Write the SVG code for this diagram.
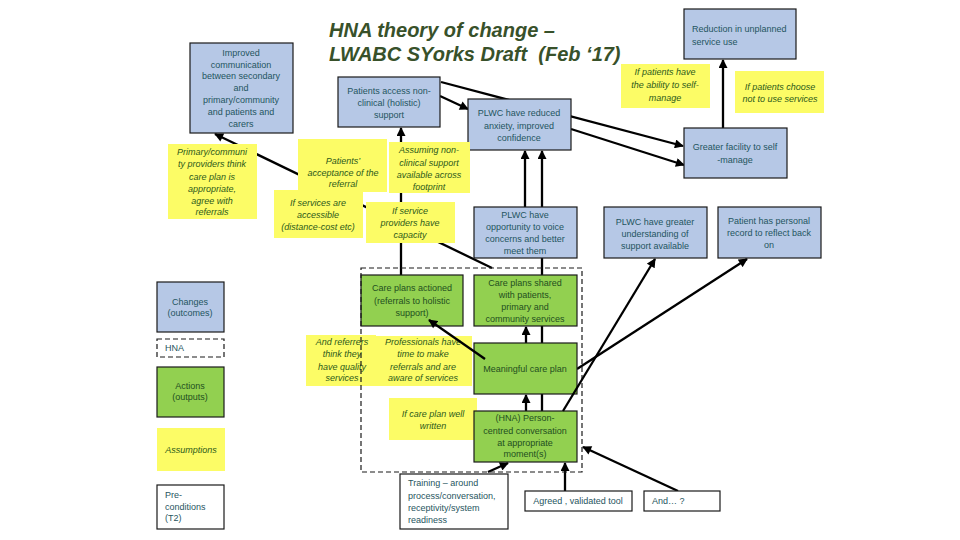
<svg xmlns="http://www.w3.org/2000/svg" width="960" height="540" viewBox="0 0 960 540">
<style>
.b{fill:#b6c8e6;stroke:#1a1a1a;stroke-width:1.2}
.g{fill:#92d050;stroke:#1a1a1a;stroke-width:1.2}
.y{fill:#fcfc66;stroke:none}
.w{fill:#ffffff;stroke:#1a1a1a;stroke-width:1.2}
.d{fill:none;stroke:#1a1a1a;stroke-width:1.2;stroke-dasharray:5 3}
text{font-family:"Liberation Sans",Arial,sans-serif;font-size:9px}
.tb{fill:#1f5560;text-anchor:middle}
.tg{fill:#1f4f1f;text-anchor:middle}
.tw{fill:#1f5560}
.ty{fill:#2c5a1a;font-style:italic;text-anchor:middle}
.title{font-size:20px;font-weight:bold;font-style:italic;fill:#38512a}
.c{stroke:#000;stroke-width:2.3;fill:none;marker-end:url(#ah)}
</style>
<defs>
<marker id="ah" viewBox="0 0 10 10" refX="9" refY="5" markerWidth="10" markerHeight="9" markerUnits="userSpaceOnUse" orient="auto">
<path d="M0,0 L10,5 L0,10 z" fill="#000"/>
</marker>
</defs>
<rect width="960" height="540" fill="#fff"/>

<g id="title">
<text class="title" x="329" y="37">HNA theory of change –</text>
<text class="title" x="329" y="61">LWABC SYorks Draft &#160;(Feb ‘17)</text>
</g>

<g id="n-referrers">
<rect class="y" x="306" y="335" width="70" height="51"/>
<text class="ty" x="342" y="345">And referrers</text>
<text class="ty" x="342" y="357">think they</text>
<text class="ty" x="342" y="370">have quality</text>
<text class="ty" x="342" y="381">services</text>
</g>
<g id="n-professionals">
<rect class="y" x="376" y="336" width="96" height="50"/>
<text class="ty" x="423" y="345">Professionals have</text>
<text class="ty" x="423" y="357">time to make</text>
<text class="ty" x="423" y="370">referrals and are</text>
<text class="ty" x="423" y="381">aware of services</text>
</g>

<g id="connectors">
<line class="c" x1="492" y1="268" x2="215" y2="134"/>
<line class="c" x1="401" y1="275" x2="401" y2="128"/>
<line class="c" x1="441" y1="82" x2="683" y2="146"/>
<line class="c" x1="440" y1="96" x2="468" y2="109"/>
<line class="c" x1="571" y1="129" x2="684" y2="165"/>
<line class="c" x1="525" y1="207" x2="525" y2="151"/>
<line class="c" x1="542" y1="436" x2="542" y2="151"/>
<line class="c" x1="723" y1="128" x2="723" y2="60"/>
<line class="c" x1="526" y1="343" x2="526" y2="327"/>
<line class="c" x1="526" y1="411" x2="526" y2="395"/>
<line class="c" x1="565" y1="491" x2="565" y2="463"/>
<line class="c" x1="488" y1="472" x2="508" y2="463"/>
<line class="c" x1="678" y1="491" x2="583" y2="447"/>
<line class="c" x1="577" y1="369" x2="747" y2="259"/>
</g>

<g id="n-improved">
<rect class="b" x="190" y="43" width="103" height="90"/>
<text class="tb" x="241" y="56">Improved</text>
<text class="tb" x="241" y="67.5">communication</text>
<text class="tb" x="241" y="79">between secondary</text>
<text class="tb" x="241" y="91">and</text>
<text class="tb" x="241" y="103">primary/community</text>
<text class="tb" x="241" y="115">and  patients and</text>
<text class="tb" x="241" y="127">carers</text>
</g>
<g id="n-access">
<rect class="b" x="338" y="77" width="102" height="50"/>
<text class="tb" x="389" y="94">Patients access non-</text>
<text class="tb" x="389" y="106">clinical (holistic)</text>
<text class="tb" x="389" y="118">support</text>
</g>
<g id="n-anxiety">
<rect class="b" x="468" y="99" width="103" height="51"/>
<text class="tb" x="519" y="116">PLWC have reduced</text>
<text class="tb" x="519" y="129">anxiety, improved</text>
<text class="tb" x="519" y="141">confidence</text>
</g>
<g id="n-reduction">
<rect class="b" x="684" y="9" width="112" height="50"/>
<text class="tw" x="692" y="32">Reduction in unplanned</text>
<text class="tw" x="692" y="45">service use</text>
</g>
<g id="n-greater">
<rect class="b" x="684" y="128" width="103" height="50"/>
<text class="tb" x="735" y="150">Greater facility to self</text>
<text class="tb" x="735" y="163">-manage</text>
</g>
<g id="n-voice">
<rect class="b" x="474" y="207" width="103" height="51"/>
<text class="tb" x="525" y="218">PLWC have</text>
<text class="tb" x="525" y="230">opportunity to voice</text>
<text class="tb" x="525" y="242">concerns and better</text>
<text class="tb" x="525" y="254">meet them</text>
</g>
<g id="n-understanding">
<rect class="b" x="604" y="207" width="103" height="51"/>
<text class="tb" x="655" y="225">PLWC have greater</text>
<text class="tb" x="655" y="237">understanding of</text>
<text class="tb" x="655" y="249">support available</text>
</g>
<g id="n-record">
<rect class="b" x="718" y="207" width="103" height="51"/>
<text class="tb" x="769" y="224">Patient has personal</text>
<text class="tb" x="769" y="236">record to reflect back</text>
<text class="tb" x="769" y="248">on</text>
</g>

<g id="n-actioned">
<rect class="g" x="361" y="275" width="102" height="51"/>
<text class="tg" x="412" y="291">Care plans actioned</text>
<text class="tg" x="412" y="304">(referrals to holistic</text>
<text class="tg" x="412" y="316">support)</text>
</g>
<g id="n-shared">
<rect class="g" x="474" y="275" width="103" height="51"/>
<text class="tg" x="525" y="286">Care plans shared</text>
<text class="tg" x="525" y="298">with patients,</text>
<text class="tg" x="525" y="310">primary and</text>
<text class="tg" x="525" y="322">community services</text>
</g>
<g id="n-wellwritten">
<rect class="y" x="389" y="398" width="88" height="42"/>
<text class="ty" x="433" y="417">If care plan well</text>
<text class="ty" x="433" y="429">written</text>
</g>
<g id="n-meaningful">
<rect class="g" x="474" y="343" width="103" height="51"/>
<text class="tg" x="525" y="372">Meaningful care plan</text>
</g>
<g id="n-conversation">
<rect class="g" x="474" y="411" width="103" height="51"/>
<text class="tg" x="525" y="421">(HNA) Person-</text>
<text class="tg" x="525" y="434">centred conversation</text>
<text class="tg" x="525" y="446">at appropriate</text>
<text class="tg" x="525" y="457">moment(s)</text>
</g>

<g id="n-primary">
<rect class="y" x="168" y="144" width="89" height="75"/>
<text class="ty" x="212" y="155">Primary/communi</text>
<text class="ty" x="212" y="167">ty providers think</text>
<text class="ty" x="212" y="180">care plan is</text>
<text class="ty" x="212" y="192">appropriate,</text>
<text class="ty" x="212" y="204">agree with</text>
<text class="ty" x="212" y="215">referrals</text>
</g>
<g id="n-acceptance">
<rect class="y" x="298" y="139" width="89" height="53"/>
<text class="ty" x="343" y="164">Patients’</text>
<text class="ty" x="343" y="176">acceptance of the</text>
<text class="ty" x="343" y="187">referral</text>
</g>
<g id="n-assuming">
<rect class="y" x="389" y="142" width="81" height="51"/>
<text class="ty" x="429" y="153">Assuming non-</text>
<text class="ty" x="429" y="166">clinical support</text>
<text class="ty" x="429" y="178">available across</text>
<text class="ty" x="429" y="190">footprint</text>
</g>
<g id="n-accessible">
<rect class="y" x="274" y="190" width="89" height="48"/>
<text class="ty" x="318" y="206">If services are</text>
<text class="ty" x="318" y="218">accessible</text>
<text class="ty" x="318" y="230">(distance-cost etc)</text>
</g>
<g id="n-capacity">
<rect class="y" x="366" y="202" width="89" height="41"/>
<text class="ty" x="410" y="214">If service</text>
<text class="ty" x="410" y="226">providers have</text>
<text class="ty" x="410" y="238">capacity</text>
</g>
<g id="n-ability">
<rect class="y" x="621" y="64" width="89" height="44"/>
<text class="ty" x="665" y="75">If patients have</text>
<text class="ty" x="665" y="88">the ability to self-</text>
<text class="ty" x="665" y="101">manage</text>
</g>
<g id="n-choose">
<rect class="y" x="735" y="71" width="89" height="42"/>
<text class="ty" x="780" y="90">If patients choose</text>
<text class="ty" x="780" y="102">not to use services</text>
</g>

<g id="n-training">
<rect class="w" x="400" y="474" width="108" height="55"/>
<text class="tw" x="408" y="486">Training – around</text>
<text class="tw" x="408" y="499">process/conversation,</text>
<text class="tw" x="408" y="511">receptivity/system</text>
<text class="tw" x="408" y="523">readiness</text>
</g>
<g id="n-tool">
<rect class="w" x="525" y="491" width="107" height="20"/>
<text class="tb" x="578" y="504">Agreed , validated tool</text>
</g>
<g id="n-and">
<rect class="w" x="644" y="491" width="76" height="20"/>
<text class="tw" x="652" y="504">And… ?</text>
</g>

<g id="hna-boundary">
<rect class="d" x="361" y="268" width="221" height="204"/>
</g>

<g id="connectors-front">
<line class="c" x1="485" y1="359" x2="429" y2="320"/>
<line class="c" x1="563" y1="411" x2="655" y2="259"/>
</g>

<g id="legend">
<g id="l-changes">
<rect class="b" x="157" y="282" width="67" height="50"/>
<text class="tb" x="190" y="305">Changes</text>
<text class="tb" x="190" y="316">(outcomes)</text>
</g>
<g id="l-hna">
<rect class="d" x="157" y="339" width="67" height="18"/>
<text class="tw" x="165" y="351">HNA</text>
</g>
<g id="l-actions">
<rect class="g" x="157" y="367" width="67" height="50"/>
<text class="tg" x="190" y="389">Actions</text>
<text class="tg" x="190" y="400">(outputs)</text>
</g>
<g id="l-assumptions">
<rect class="y" x="157" y="428" width="68" height="43"/>
<text class="ty" x="191" y="453">Assumptions</text>
</g>
<g id="l-preconditions">
<rect class="w" x="157" y="485" width="67" height="44"/>
<text class="tw" x="165" y="498">Pre-</text>
<text class="tw" x="165" y="510">conditions</text>
<text class="tw" x="165" y="521">(T2)</text>
</g>
</g>
</svg>
